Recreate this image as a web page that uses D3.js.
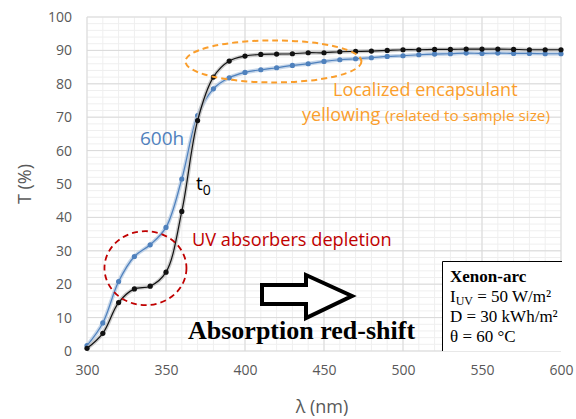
<!DOCTYPE html>
<html>
<head>
<meta charset="utf-8">
<script src="https://cdn.jsdelivr.net/npm/d3@7"></script>
<style>
  body { margin: 0; background: #fff; }
  text { font-family: "Open Sans", "Noto Sans", sans-serif; }
  text.serif, text.serif tspan { font-family: "Liberation Serif", "Times New Roman", serif; }
</style>
</head>
<body>
<div id="chart"></div>
<script>
// wavelengths (nm)
var wavelengths = d3.range(300, 601, 10);
// transmittance at t0
var t0Values = [0.8, 5.3, 14.5, 18.6, 19.4, 23.6, 41.8, 69, 82, 86.8, 88.3, 88.8, 88.9, 89, 89.3, 89.3, 89.6, 89.7, 89.8,
  90, 90.2, 90.2, 90.3, 90.3, 90.4, 90.4, 90.4, 90.3, 90.2, 90.2, 90.2];
// transmittance after 600h
var h600Values = [1.6, 8.4, 20.8, 28.3, 31.8, 37, 51.5, 70.5, 78.5, 81.8, 83.4, 84.2, 84.8, 85.5, 86, 86.7, 87.2, 87.5, 87.8,
  88.2, 88.4, 88.7, 88.9, 89, 89.2, 89.1, 89.2, 89.1, 89.1, 89, 89];
var xTicks = [300, 350, 400, 450, 500, 550, 600];
var yTicks = [0, 10, 20, 30, 40, 50, 60, 70, 80, 90, 100];

var W = 576, H = 419;
var margin = { top: 17, left: 87, right: 15, bottom: 68 },
    width = W - margin.left - margin.right,
    height = H - margin.top - margin.bottom;

var orange = '#fa9e2c';

var svg = d3.select('#chart').append('svg')
    .attr('width', W)
    .attr('height', H);

var g = svg.append('g')
    .attr('transform', 'translate(' + margin.left + ',' + margin.top + ')');

var x = d3.scaleLinear().domain([300, 600]).range([0, width]);
var y = d3.scaleLinear().domain([0, 100]).range([height, 0]);

// minor grid
g.append('g').selectAll('line')
    .data(d3.range(300, 601, 10))
    .join('line')
    .attr('x1', d => x(d)).attr('x2', d => x(d))
    .attr('y1', 0).attr('y2', height)
    .attr('stroke', '#efefef');
g.append('g').selectAll('line')
    .data(d3.range(0, 101, 2))
    .join('line')
    .attr('y1', d => y(d)).attr('y2', d => y(d))
    .attr('x1', 0).attr('x2', width)
    .attr('stroke', '#efefef');

// major grid
g.append('g').selectAll('line')
    .data(xTicks)
    .join('line')
    .attr('x1', d => x(d)).attr('x2', d => x(d))
    .attr('y1', 0).attr('y2', height)
    .attr('stroke', '#d9d9d9');
g.append('g').selectAll('line')
    .data(yTicks)
    .join('line')
    .attr('y1', d => y(d)).attr('y2', d => y(d))
    .attr('x1', 0).attr('x2', width)
    .attr('stroke', '#d9d9d9');

// axes (labels only)
var xAxis = g.append('g')
    .attr('transform', 'translate(0,' + height + ')')
    .call(d3.axisBottom(x).tickValues(xTicks).tickSize(0).tickPadding(14));
var yAxis = g.append('g')
    .call(d3.axisLeft(y).tickValues(yTicks).tickSize(0).tickPadding(15));
[xAxis, yAxis].forEach(function(a) {
    a.select('.domain').remove();
    a.selectAll('text')
        .style('font-family', '"Open Sans", sans-serif')
        .style('font-size', '14px')
        .attr('fill', '#595959');
});

svg.append('text')
    .attr('transform', 'translate(31,' + (margin.top + height / 2) + ') rotate(-90)')
    .attr('text-anchor', 'middle')
    .style('font-size', '18px')
    .attr('fill', '#595959')
    .text('T (%)');

svg.append('text')
    .attr('x', margin.left + width / 2 - 2)
    .attr('y', 413)
    .attr('text-anchor', 'middle')
    .style('font-size', '18px')
    .attr('fill', '#595959')
    .text('λ (nm)');

// series
var series = [
    { name: '600h', values: h600Values, color: '#4f81bd', glow: '#b8cce4' },
    { name: 't0', values: t0Values, color: '#111111', glow: '#bfbfbf' }
];

var line = d3.line()
    .x(d => x(d[0]))
    .y(d => y(d[1]))
    .curve(d3.curveCatmullRom.alpha(0.5));

series.forEach(function(s) {
    var pts = wavelengths.map((w, i) => [w, s.values[i]]);
    g.append('path')
        .datum(pts)
        .attr('d', line)
        .attr('fill', 'none')
        .attr('stroke', s.glow)
        .attr('stroke-width', 4)
        .attr('stroke-opacity', 0.8);
    g.append('path')
        .datum(pts)
        .attr('d', line)
        .attr('fill', 'none')
        .attr('stroke', s.color)
        .attr('stroke-width', 1.2);
    g.append('g').selectAll('circle')
        .data(pts)
        .join('circle')
        .attr('cx', d => x(d[0]))
        .attr('cy', d => y(d[1]))
        .attr('r', 2.6)
        .attr('fill', s.color);
});

// annotations
// orange dashed ellipse (yellowing)
g.append('ellipse')
    .attr('cx', x(418)).attr('cy', y(86.7))
    .attr('rx', 88).attr('ry', 21)
    .attr('fill', 'none')
    .attr('stroke', orange)
    .attr('stroke-width', 2)
    .attr('stroke-dasharray', '6,4');

// red dashed ellipse (UV absorbers)
g.append('ellipse')
    .attr('cx', x(337)).attr('cy', y(24.8))
    .attr('rx', 41).attr('ry', 37)
    .attr('fill', 'none')
    .attr('stroke', '#c00000')
    .attr('stroke-width', 1.8)
    .attr('stroke-dasharray', '6,4');

svg.append('text')
    .attr('x', 140).attr('y', 145)
    .attr('fill', '#4f81bd')
    .style('font-size', '19px')
    .text('600h');

var t0Label = svg.append('text')
    .attr('x', 196).attr('y', 190)
    .attr('fill', '#000')
    .style('font-size', '19px');
t0Label.append('tspan').text('t');
t0Label.append('tspan').attr('dy', 5).style('font-size', '14px').text('0');

svg.append('text')
    .attr('x', 192).attr('y', 246)
    .attr('fill', '#c00000')
    .style('font-size', '18.2px')
    .text('UV absorbers depletion');

svg.append('text')
    .attr('x', 333).attr('y', 96)
    .attr('fill', orange)
    .style('font-size', '18px')
    .text('Localized encapsulant');

var yl = svg.append('text')
    .attr('x', 302).attr('y', 121)
    .attr('fill', orange)
    .style('font-size', '18px');
yl.append('tspan').text('yellowing ');
yl.append('tspan').style('font-size', '15.3px').text('(related to sample size)');

// hollow arrow
var arrowPts = [[262, 285], [306, 285], [306, 275], [352, 296], [306, 318], [306, 304], [262, 304]];
svg.append('path')
    .attr('d', d3.line()(arrowPts) + 'Z')
    .attr('fill', '#fff')
    .attr('stroke', '#000')
    .attr('stroke-width', 4)
    .attr('stroke-linejoin', 'miter');

svg.append('text')
    .attr('class', 'serif')
    .attr('x', 188).attr('y', 339)
    .attr('fill', '#000')
    .style('font-weight', 'bold')
    .style('font-size', '26px')
    .text('Absorption red-shift');

// info box (left and top edge visible, cut by the plot area)
var bx = 442.5, by = 261.5, bRight = margin.left + width + 1, bBottom = margin.top + height;
svg.append('rect')
    .attr('x', bx).attr('y', by)
    .attr('width', bRight - bx)
    .attr('height', bBottom - by)
    .attr('fill', '#fff');
svg.append('path')
    .attr('d', 'M' + bx + ',' + bBottom + 'V' + by + 'H' + bRight)
    .attr('fill', 'none')
    .attr('stroke', '#000')
    .attr('stroke-width', 1);

var bl = [282, 302, 322, 342];
svg.append('text').attr('class', 'serif').attr('x', 450).attr('y', bl[0])
    .style('font-weight', 'bold').style('font-size', '17px').text('Xenon-arc');
var iuv = svg.append('text').attr('class', 'serif').attr('x', 450).attr('y', bl[1])
    .style('font-size', '17px');
iuv.append('tspan').text('I');
iuv.append('tspan').attr('dy', 3).style('font-size', '12px').text('UV');
iuv.append('tspan').attr('dy', -3).text(' = 50 W/m²');
svg.append('text').attr('class', 'serif').attr('x', 450).attr('y', bl[2])
    .style('font-size', '17px').text('D = 30 kWh/m²');
svg.append('text').attr('class', 'serif').attr('x', 450).attr('y', bl[3])
    .style('font-size', '17px').text('θ = 60 °C');
</script>
</body>
</html>
